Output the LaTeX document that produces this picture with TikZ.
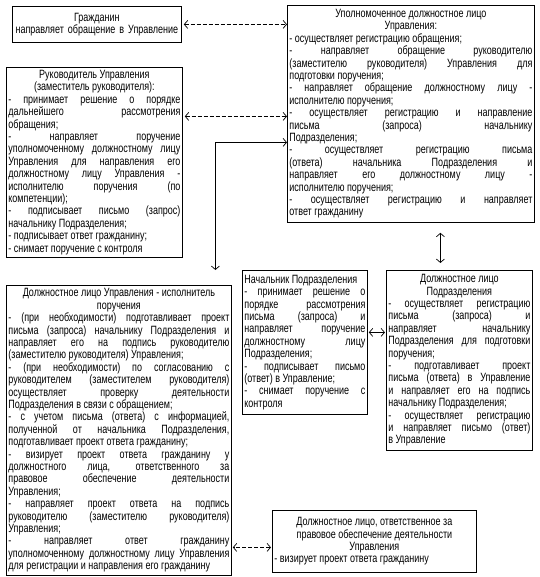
\documentclass[tikz,border=0pt]{standalone}
\usepackage{fontspec}
\setmainfont[FakeStretch=0.75]{Liberation Sans}
\usetikzlibrary{arrows.meta}

\begin{document}
\begin{tikzpicture}[x=1pt, y=-1pt,
    card/.style={rectangle, draw, line width=0.8pt, anchor=north west,
                inner xsep=2pt, inner ysep=1pt, align=justify,
                font=\fontsize{12}{12.4}\selectfont,
                execute at begin node={\parindent=0pt\tolerance=10000\hbadness=10000\hyphenpenalty=10000}},
    dasharr/.style={{Straight Barb[length=3.5pt,width=8pt]}-{Straight Barb[length=3.5pt,width=8pt]},
                line width=0.7pt, dash pattern=on 4pt off 2pt},
    linkarr/.style={{Straight Barb[length=3.5pt,width=8pt]}-{Straight Barb[length=3.5pt,width=8pt]},
                line width=0.7pt}
]
    \useasboundingbox (0,0) rectangle (539,577);

    \node[card, align=center, text width=165pt, minimum height=36pt] (citizen) at (12,6)
        {Гражданин\\направляет обращение в Управление};

    \node[card, text width=243pt, minimum height=217pt] (auth) at (287,5)
        {{\centering Уполномоченное должностное лицо\\Управления:\par}
        - осуществляет регистрацию обращения;\par
        - направляет обращение руководителю\linebreak (заместителю руководителя) Управления для\linebreak подготовки поручения;\par
        - направляет обращение должностному лицу -\linebreak исполнителю поручения;\par
        - осуществляет регистрацию и направление\linebreak письма (запроса) начальнику\linebreak Подразделения;\par
        - осуществляет регистрацию письма\linebreak (ответа) начальника Подразделения и\linebreak направляет его должностному лицу -\linebreak исполнителю поручения;\par
        - осуществляет регистрацию и направляет\linebreak ответ гражданину};

    \node[card, text width=172pt, minimum height=190pt] (head) at (6,67)
        {{\centering Руководитель Управления\\(заместитель руководителя):\par}
        - принимает решение о порядке\linebreak дальнейшего рассмотрения\linebreak обращения;\par
        - направляет поручение\linebreak уполномоченному должностному лицу\linebreak Управления для направления его\linebreak должностному лицу Управления -\linebreak исполнителю поручения (по\linebreak компетенции);\par
        - подписывает письмо (запрос)\linebreak начальнику Подразделения;\par
        - подписывает ответ гражданину;\par
        - снимает поручение с контроля};

    \node[card, text width=221pt, minimum height=290pt] (exec) at (6,285)
        {{\centering Должностное лицо Управления - исполнитель\\поручения\par}
        - (при необходимости) подготавливает проект\linebreak письма (запроса) начальнику Подразделения и\linebreak направляет его на подпись руководителю\linebreak (заместителю руководителя) Управления;\par
        - (при необходимости) по согласованию с\linebreak руководителем (заместителем руководителя)\linebreak осуществляет проверку деятельности\linebreak Подразделения в связи с обращением;\par
        - с учетом письма (ответа) с информацией,\linebreak полученной от начальника Подразделения,\linebreak подготавливает проект ответа гражданину;\par
        - визирует проект ответа гражданину у\linebreak должностного лица, ответственного за\linebreak правовое обеспечение деятельности\linebreak Управления;\par
        - направляет проект ответа на подпись\linebreak руководителю (заместителю руководителя)\linebreak Управления;\par
        - направляет ответ гражданину\linebreak уполномоченному должностному лицу Управления\linebreak для регистрации и направления его гражданину};

    \node[card, text width=121pt, minimum height=144pt] (chief) at (242,270)
        {Начальник Подразделения\par
        - принимает решение о\linebreak порядке рассмотрения\linebreak письма (запроса) и\linebreak направляет поручение\linebreak должностному лицу\linebreak Подразделения;\par
        - подписывает письмо\linebreak (ответ) в Управление;\par
        - снимает поручение с\linebreak контроля};

    \node[card, text width=142pt, minimum height=180pt] (unit) at (386,270)
        {{\centering Должностное лицо\\Подразделения\par}
        - осуществляет регистрацию\linebreak письма (запроса) и\linebreak направляет начальнику\linebreak Подразделения для подготовки\linebreak поручения;\par
        - подготавливает проект\linebreak письма (ответа) в Управление\linebreak и направляет его на подпись\linebreak начальнику Подразделения;\par
        - осуществляет регистрацию\linebreak и направляет письмо (ответ)\linebreak в Управление};

    \node[card, text width=200pt, minimum height=62pt] (legal) at (272,510)
        {{\centering Должностное лицо, ответственное за\\правовое обеспечение деятельности\\Управления\par}
        - визирует проект ответа гражданину};

    \draw[dasharr, shorten <=2pt] (citizen.east) -- (citizen.east -| auth.west);
    \draw[dasharr, shorten <=2pt] ([yshift=46pt]head.east) -- ([yshift=46pt]head.east -| auth.west);
    \draw[linkarr, shorten >=15pt] ([yshift=-28.5pt]auth.west) -| ([xshift=96.5pt]exec.north);
    \draw[linkarr, shorten <=10pt, shorten >=7pt] ([xshift=29.5pt]auth.south) -- ([xshift=29.5pt]auth.south |- unit.north);
    \draw[linkarr, shorten <=1pt, shorten >=1pt] ([yshift=10pt]chief.east) -- ([yshift=10pt]chief.east -| unit.west);
    \draw[dasharr, shorten <=1pt, shorten >=1pt] ([yshift=-6pt]legal.west) -- ([yshift=-6pt]legal.west -| exec.east);
\end{tikzpicture}
\end{document}
